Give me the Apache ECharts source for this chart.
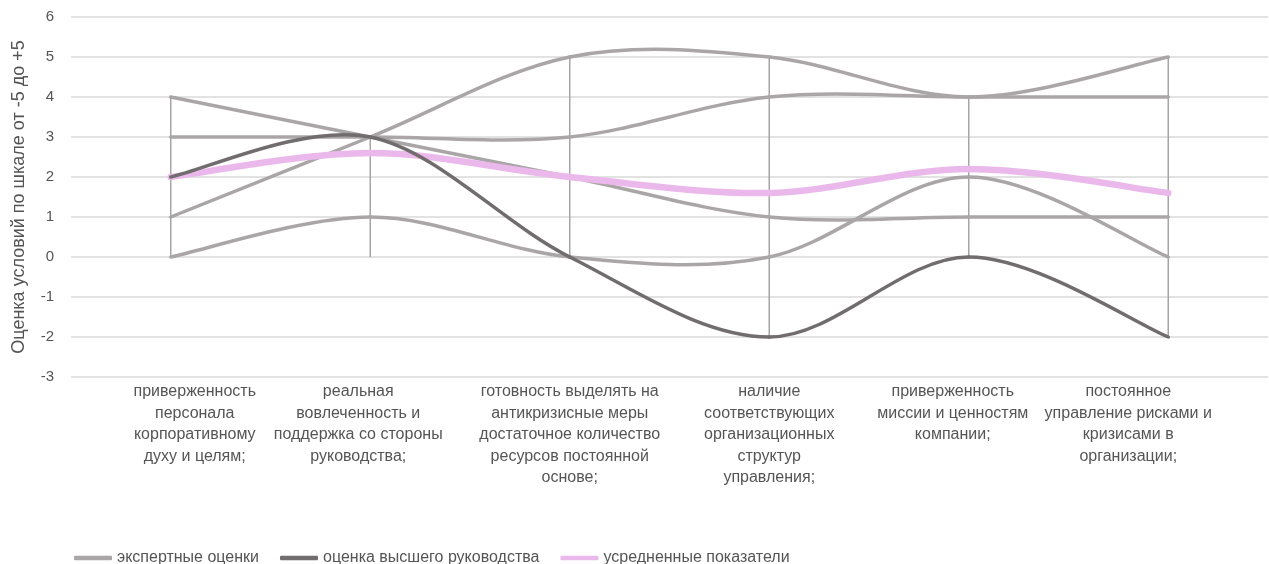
<!DOCTYPE html>
<html>
<head>
<meta charset="utf-8">
<script src="https://cdn.jsdelivr.net/npm/echarts@6/dist/echarts.min.js"></script>
<style>
  html, body { margin: 0; padding: 0; background: #fff; }
  #chart { width: 1269px; height: 564px; }
</style>
</head>
<body>
<div id="chart"></div>
<script>
const categories = [
  'приверженность\nперсонала\nкорпоративному\nдуху и целям;',
  'реальная\nвовлеченность и\nподдержка со стороны\nруководства;',
  'готовность выделять на\nантикризисные меры\nдостаточное количество\nресурсов постоянной\nоснове;',
  'наличие\nсоответствующих\nорганизационных\nструктур\nуправления;',
  'приверженность\nмиссии и ценностям\nкомпании;',
  'постоянное\nуправление рисками и\nкризисами в\nорганизации;'
];

// expert scores, one array per expert
const expert1 = [4, 3, 2, 1, 1, 1];
const expert2 = [3, 3, 3, 4, 4, 4];
const expert3 = [1, 3, 5, 5, 4, 5];
const expert4 = [0, 1, 0, 0, 2, 0];
const management = [2, 3, 0, -2, 0, -2];
const average = [2, 2.6, 2, 1.6, 2.2, 1.6];

const yTicks = { min: -3, max: 6, interval: 1 };

const names = ['экспертные оценки', 'оценка высшего руководства', 'усредненные показатели'];
const expertColor = '#aaa6a7';
const mgmtColor = '#716c6e';
const avgColor = '#ebb8eb';
const font = 'Liberation Sans';
const textColor = '#555555';

// the original labels sit a bit off their category centre (px, + = right)
const labelShift = [24, -12, 0, 0, -16, -40];

const allSeries = [expert1, expert2, expert3, expert4, management, average];
// high-low lines per category (the original chart drops them to 0 at least)
const hiLo = categories.map((c, i) => {
  const vals = allSeries.map(s => s[i]);
  return [i, Math.max(...vals), Math.min(0, ...vals)];
});

// Excel-like smoothed line: cardinal spline drawn segment by segment
const smoothLine = (name, values, color, width, z) => ({
  name: name,
  type: 'custom',
  data: values.map((v, i) => [i, v]),
  encode: { x: 0, y: 1 },
  z: z,
  silent: true,
  itemStyle: { color: color },
  renderItem: (params, api) => {
    const i = params.dataIndex;
    const n = values.length;
    if (i >= n - 1) return null;
    const pt = k => {
      const j = Math.max(0, Math.min(n - 1, k));
      return api.coord([j, values[j]]);
    };
    const p0 = pt(i - 1), p1 = pt(i), p2 = pt(i + 1), p3 = pt(i + 2);
    const t = 1 / 6;
    return {
      type: 'bezierCurve',
      shape: {
        x1: p1[0], y1: p1[1],
        x2: p2[0], y2: p2[1],
        cpx1: p1[0] + (p2[0] - p0[0]) * t, cpy1: p1[1] + (p2[1] - p0[1]) * t,
        cpx2: p2[0] - (p3[0] - p1[0]) * t, cpy2: p2[1] - (p3[1] - p1[1]) * t
      },
      style: { stroke: color, lineWidth: width, lineCap: 'round', fill: null }
    };
  }
});

const labelRich = {};
labelShift.forEach((s, i) => {
  labelRich['c' + i] = {
    color: textColor,
    fontSize: 16,
    fontFamily: font,
    lineHeight: 21.5,
    align: 'center',
    padding: s >= 0 ? [0, 0, 0, 2 * s] : [0, -2 * s, 0, 0]
  };
});

const chart = echarts.init(document.getElementById('chart'));

chart.setOption({
  animation: false,
  grid: { left: 71, right: 1, top: 17, bottom: 187, containLabel: false, outerBoundsMode: 'none' },
  legend: {
    data: names,
    left: 74,
    top: 550,
    padding: 0,
    itemWidth: 38,
    itemHeight: 4.5,
    itemGap: 21,
    icon: 'roundRect',
    textStyle: { color: textColor, fontSize: 16, fontFamily: font }
  },
  xAxis: {
    type: 'category',
    data: categories,
    boundaryGap: true,
    axisLine: { show: false },
    axisTick: { show: false },
    axisLabel: {
      interval: 0,
      color: textColor,
      fontSize: 16,
      fontFamily: font,
      lineHeight: 21.5,
      margin: 4,
      formatter: (value, index) => value.split('\n').map(l => '{c' + index + '|' + l + '}').join('\n'),
      rich: labelRich
    }
  },
  yAxis: {
    type: 'value',
    min: yTicks.min,
    max: yTicks.max,
    interval: yTicks.interval,
    name: 'Оценка условий по шкале от -5 до +5',
    nameLocation: 'middle',
    nameRotate: 90,
    nameGap: 43,
    nameTextStyle: { color: textColor, fontSize: 18, fontFamily: font },
    axisLine: { show: false },
    axisTick: { show: false },
    axisLabel: { color: textColor, fontSize: 15, fontFamily: font, margin: 17 },
    splitLine: { lineStyle: { color: '#d9d9d9', width: 1.5 } }
  },
  series: [
    {
      type: 'custom',
      name: 'hilo',
      data: hiLo,
      z: 1,
      silent: true,
      renderItem: (params, api) => {
        const top = api.coord([api.value(0), api.value(1)]);
        const bot = api.coord([api.value(0), api.value(2)]);
        return {
          type: 'line',
          shape: { x1: top[0], y1: top[1], x2: bot[0], y2: bot[1] },
          style: { stroke: '#a5a5a5', lineWidth: 1.5 }
        };
      }
    },
    smoothLine(names[0], expert1, expertColor, 3.5, 3),
    smoothLine(names[0], expert2, expertColor, 3.5, 3),
    smoothLine(names[0], expert3, expertColor, 3.5, 3),
    smoothLine(names[0], expert4, expertColor, 3.5, 3),
    smoothLine(names[2], average, avgColor, 6.5, 4),
    smoothLine(names[1], management, mgmtColor, 3.5, 5)
  ]
});
</script>
</body>
</html>
